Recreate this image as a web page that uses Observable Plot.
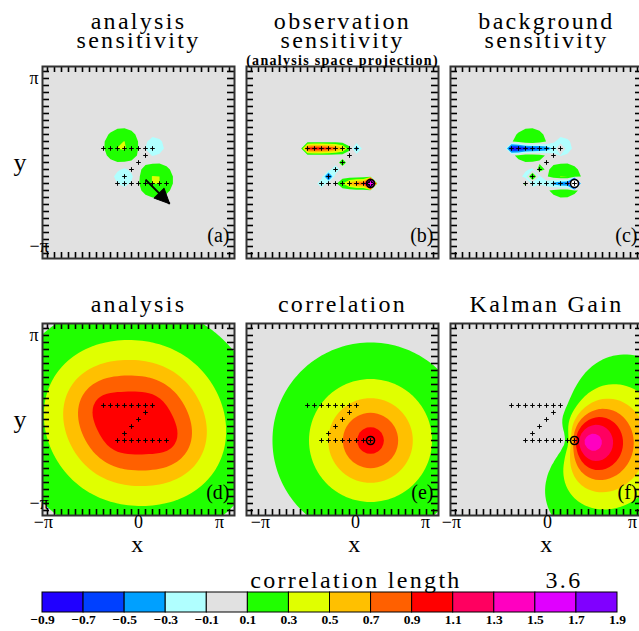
<!DOCTYPE html>
<html>
<head>
<meta charset="utf-8">
<script src="https://cdn.jsdelivr.net/npm/d3@7"></script>
<script src="https://cdn.jsdelivr.net/npm/@observablehq/plot@0.6"></script>
<style>
  html, body { margin: 0; padding: 0; background: #fff; overflow: hidden; }
  #chart { position: relative; width: 639px; height: 631px; overflow: hidden; }
  .pane { position: absolute; }
  .pane svg { overflow: visible; max-width: none; }
  g[font-size="24"] text { letter-spacing: 2.3px; }
  g[font-size="14"] text { letter-spacing: 1.3px; }
</style>
</head>
<body>
<div id="chart"></div>
<script>
// ---------------- data ----------------
const levels = [-0.9, -0.7, -0.5, -0.3, -0.1, 0.1, 0.3, 0.5, 0.7, 0.9, 1.1, 1.3, 1.5, 1.7, 1.9];
const levelLabels = ["−0.9","−0.7","−0.5","−0.3","−0.1","0.1","0.3","0.5","0.7","0.9","1.1","1.3","1.5","1.7","1.9"];
const levelColors = ["#2000ff","#0040ff","#00a0ff","#b0ffff","#e1e1e1","#20ff00","#e0ff00","#ffc000","#ff6000","#ff0000","#ff0060","#ff00c0","#e000ff","#8000ff"];
const overColor = "#000000";   // values above the last level

// observation locations (grid indices, grid step = pi/12)
const obsI = [-5,-4,-3,-2,-1, 0, 1, 2,   1, 0,-1,-2,  -3,-2,-1, 0, 1, 2, 3, 4];
const obsJ = [ 2, 2, 2, 2, 2, 2, 2, 2,   1, 0,-1,-2,  -3,-3,-3,-3,-3,-3,-3,-3];
// observation sensitivity (analysis-space projection), one value per observation
const obsSensitivity = [0.95,1.05,1.0,0.95,0.8,0.55,0.15,-0.45,  0.0,0.2,-0.25,-0.68,  -0.25,0.0,0.05,0.3,0.6,0.8,0.85,4.0];
const circledObs = 19;
const corrLength = 3.6;     // correlation length (grid units)
const obsErrVar = 0.014;
const obsValue = 1;

// analysis sensitivity: blobs (grid units)
const sensX = [-2.36, 2.43, 2.15, -2.0];
const sensY = [ 2.36, -2.5, 2.15, -2.0];
const sensAmp = [0.335, 0.335, -0.32, -0.32];
const sensWidth = [1.62, 1.62, 0.94, 0.94];
// forcing arrow in panel (a) (grid units)
const arrowFrom = [1.0, -2.45];
const arrowTo = [4.45, -5.9];

const piTickVals = [-Math.PI, 0, Math.PI];
const piTickLabels = ["−π", "0", "π"];
const yTickVals = [Math.PI, -Math.PI];
const yTickLabels = ["π", "−π"];

// ---------------- helpers ----------------
const g = Math.PI / 12;
const frameHalf = 3.59;
const gridTicks = d3.range(-13, 14).map(i => i * g);
const obs = obsI.map((i, k) => ({i, j: obsJ[k], x: i * g, y: obsJ[k] * g}));
const N = obs.length;

function corr(r) { const s = r / corrLength; return (1 + s) * Math.exp(-s); }
function invert(M) {
  const n = M.length;
  const A = M.map((r, i) => [...r, ...r.map((_, j) => (i === j ? 1 : 0))]);
  for (let c = 0; c < n; c++) {
    let p = c;
    for (let r = c + 1; r < n; r++) if (Math.abs(A[r][c]) > Math.abs(A[p][c])) p = r;
    [A[c], A[p]] = [A[p], A[c]];
    const d = A[c][c];
    for (let j = 0; j < 2 * n; j++) A[c][j] /= d;
    for (let r = 0; r < n; r++) if (r !== c) {
      const f = A[r][c];
      if (f) for (let j = 0; j < 2 * n; j++) A[r][j] -= f * A[c][j];
    }
  }
  return A.map(r => r.slice(n));
}
const Cmat = obs.map((a, k) => obs.map((b, l) => corr(Math.hypot(a.i - b.i, a.j - b.j)) + (k === l ? obsErrVar : 0)));
const Cinv = invert(Cmat);
const wAnalysis = Cinv.map(row => d3.sum(row) * obsValue);
const wGain = Cinv.map(row => row[circledObs]);

function analysisField(gx, gy) { let s = 0; for (let k = 0; k < N; k++) s += wAnalysis[k] * corr(Math.hypot(gx - obsI[k], gy - obsJ[k])); return s; }
function gainField(gx, gy) { let s = 0; for (let k = 0; k < N; k++) s += wGain[k] * corr(Math.hypot(gx - obsI[k], gy - obsJ[k])); return s; }
function corrField(gx, gy) { return corr(Math.hypot(gx - obsI[circledObs], gy - obsJ[circledObs])); }
function sensAField(gx, gy) {
  let s = 0;
  for (let k = 0; k < sensX.length; k++) {
    const d2 = (gx - sensX[k]) ** 2 + (gy - sensY[k]) ** 2;
    s += sensAmp[k] * Math.exp(-d2 / (2 * sensWidth[k] ** 2));
  }
  return s;
}
const obsSensMap = new Map(obs.map((o, k) => [o.i + "," + o.j, obsSensitivity[k]]));
function sensBField(gx, gy) {
  const ri = Math.round(gx), rj = Math.round(gy);
  if (Math.abs(gx - ri) > 0.01 || Math.abs(gy - rj) > 0.01) return 0;
  return obsSensMap.get(ri + "," + rj) ?? 0;
}
function sensCField(gx, gy) { return sensAField(gx, gy) - sensBField(gx, gy); }

const colorScale = {type: "threshold", domain: levels.slice(0, 14).map(v => v + 0.1), range: [...levelColors, overColor]};
const font = "'Liberation Serif', 'DejaVu Serif', serif";
const ink = "#000";

const headShape = {
  draw(ctx, l) { const w = 7; ctx.moveTo(0, -l); ctx.lineTo(-w, 0); ctx.lineTo(w, 0); ctx.closePath(); }
};

const panels = [
  {left: 42, top: 66, title: ["analysis", "sensitivity"], titleDy: [-38, -19], letter: "(a)", field: sensAField, fine: false, yAxis: true, arrow: true},
  {left: 246, top: 66, title: ["observation", "sensitivity"], titleDy: [-38, -19], subtitle: "(analysis space projection)", letter: "(b)", field: sensBField, fine: false, circled: true, circledMark: "#ff00ff"},
  {left: 450, top: 66, title: ["background", "sensitivity"], titleDy: [-38, -19], letter: "(c)", field: sensCField, fine: false, circled: true},
  {left: 42, top: 323, title: ["analysis"], titleDy: [-12], letter: "(d)", field: analysisField, fine: true, yAxis: true, xAxis: true, xShift: [-11, 0, -3], xLabelShift: 0},
  {left: 246, top: 323, title: ["correlation"], titleDy: [-12], letter: "(e)", field: corrField, fine: true, xAxis: true, circled: true, xShift: [2, 13, -1], xLabelShift: 13},
  {left: 450, top: 323, title: ["Kalman Gain"], titleDy: [-12], letter: "(f)", field: gainField, fine: true, xAxis: true, circled: true, xShift: [-11, 1, 2], xLabelShift: 1}
];

function makePanel(p) {
  const step = p.fine ? 0.5 : 1;
  const ext = (14 + step / 2) * g;
  const n = Math.round(28 / step) + 1;
  const tickStyle = {stroke: ink, strokeWidth: 1.6};
  const marks = [
    Plot.contour({
      value: (x, y) => p.field(x / g, y / g), fill: "value", stroke: "none",
      thresholds: levels, x1: -ext, x2: ext, y1: -ext, y2: ext,
      width: n, height: n, clip: true
    }),
    Plot.tickX(gridTicks, {x: d => d, insetBottom: 186, ...tickStyle}),
    Plot.tickX(gridTicks, {x: d => d, insetTop: 186, ...tickStyle}),
    Plot.tickY(gridTicks, {y: d => d, insetRight: 185, ...tickStyle}),
    Plot.tickY(gridTicks, {y: d => d, insetLeft: 185, ...tickStyle}),
    Plot.frame({stroke: "#333", strokeWidth: 2}),
    Plot.dot(obs.filter((o, k) => !(p.circledMark && k === circledObs)), {x: "x", y: "y", symbol: "plus", r: 1.6, stroke: ink, strokeWidth: 1})
  ];
  if (p.circled) {
    marks.push(Plot.dot([obs[circledObs]], {x: "x", y: "y", r: 4, stroke: ink, strokeWidth: 1.6, fill: "none"}));
    if (p.circledMark) marks.push(Plot.dot([obs[circledObs]], {x: "x", y: "y", symbol: "plus", r: 1.6, stroke: p.circledMark, strokeWidth: 1.2}));
  }
  if (p.arrow) {
    const a = [{x1: arrowFrom[0] * g, y1: arrowFrom[1] * g, x2: arrowTo[0] * g, y2: arrowTo[1] * g}];
    const rot = Math.atan2(arrowTo[0] - arrowFrom[0], arrowTo[1] - arrowFrom[1]) * 180 / Math.PI;
    marks.push(Plot.link(a, {x1: "x1", y1: "y1", x2: "x2", y2: "y2", stroke: ink, strokeWidth: 2}));
    marks.push(Plot.vector(a, {x: "x2", y: "y2", rotate: rot, length: 15, anchor: "end", shape: headShape, fill: ink, stroke: ink, strokeWidth: 1}));
  }
  const txt = {fill: ink};
  p.title.forEach((t, k) => marks.push(Plot.text([t], {...txt, text: d => d, frameAnchor: "top", dy: p.titleDy[k], lineAnchor: "bottom", fontSize: 24})));
  if (p.subtitle) marks.push(Plot.text([p.subtitle], {...txt, text: d => d, frameAnchor: "top", dy: -2, lineAnchor: "bottom", fontSize: 14, fontWeight: "bold"}));
  marks.push(Plot.text([p.letter], {...txt, text: d => d, frameAnchor: "bottom-right", dx: -5, dy: -17, textAnchor: "end", fontSize: 20}));
  if (p.yAxis) {
    marks.push(Plot.text(yTickVals, {...txt, y: d => d, text: (d, i) => yTickLabels[i], frameAnchor: "left", dx: -13, fontSize: 18}));
    marks.push(Plot.text(["y"], {...txt, y: () => 0, text: d => d, frameAnchor: "left", dx: -29, fontSize: 26}));
  }
  if (p.xAxis) {
    piTickVals.forEach((v, k) => marks.push(Plot.text([v], {...txt, x: d => d, text: () => piTickLabels[k], frameAnchor: "bottom", dy: 12, dx: p.xShift[k], fontSize: 18})));
    marks.push(Plot.text(["x"], {...txt, x: () => 0, text: d => d, frameAnchor: "bottom", dy: 36, dx: p.xLabelShift, fontSize: 24}));
  }
  return Plot.plot({
    width: 192, height: 192, margin: 0,
    x: {domain: [-frameHalf, frameHalf], axis: null},
    y: {domain: [-frameHalf, frameHalf], axis: null},
    color: colorScale,
    style: {background: "transparent", overflow: "visible", maxWidth: "none", fontFamily: font, color: ink},
    marks
  });
}

const chart = document.getElementById("chart");
for (const p of panels) {
  const div = document.createElement("div");
  div.className = "pane";
  div.style.left = p.left + "px";
  div.style.top = p.top + "px";
  div.style.width = "192px";
  div.style.height = "192px";
  div.appendChild(makePanel(p));
  chart.appendChild(div);
}

// colour bar
const bins = levels.slice(0, -1).map((v, k) => ({lo: v, hi: levels[k + 1]}));
const bar = Plot.plot({
  width: 575, height: 20, margin: 0,
  x: {domain: [levels[0], levels[levels.length - 1]], axis: null},
  color: colorScale,
  style: {background: "transparent", overflow: "visible", maxWidth: "none", fontFamily: font, color: ink},
  marks: [
    Plot.rect(bins, {x1: "lo", x2: "hi", fill: "lo", stroke: ink, strokeWidth: 1}),
    Plot.text(levels, {x: d => d, text: (d, i) => levelLabels[i], frameAnchor: "bottom", dy: 11, fontSize: 13.5, fontWeight: "bold", fill: ink}),
    Plot.text(["correlation length"], {text: d => d, frameAnchor: "top", dx: 26, dy: -5, lineAnchor: "bottom", fontSize: 24, fill: ink}),
    Plot.text([corrLength], {text: d => d.toFixed(1), frameAnchor: "top", dx: 234, dy: -5, lineAnchor: "bottom", fontSize: 24, fill: ink})
  ]
});
const bdiv = document.createElement("div");
bdiv.className = "pane";
bdiv.style.left = "42px";
bdiv.style.top = "592px";
bdiv.style.width = "575px";
bdiv.appendChild(bar);
chart.appendChild(bdiv);
</script>
</body>
</html>
